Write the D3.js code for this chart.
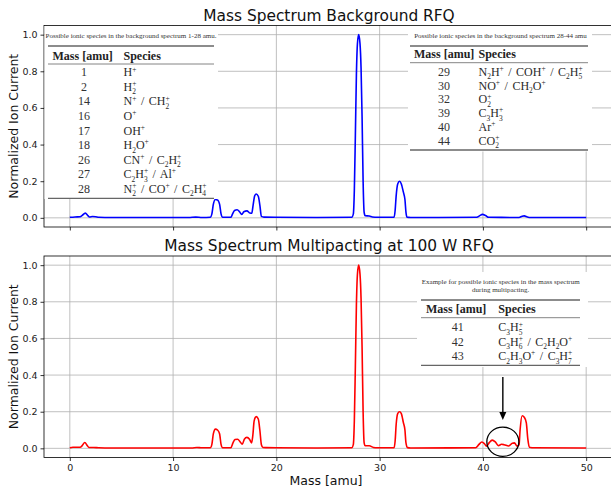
<!DOCTYPE html>
<html><head><meta charset="utf-8">
<script src="https://cdn.jsdelivr.net/npm/d3@7"></script>
<style>
html,body{margin:0;padding:0;background:#fff;}
svg{display:block;}
</style></head>
<body>
<svg id="chart" width="611" height="488"></svg>
<script>
// ---------------- DATA ----------------
const titles = ["Mass Spectrum Background RFQ", "Mass Spectrum Multipacting at 100 W RFQ"];
const xLabel = "Mass [amu]";
const yLabel = "Normalized Ion Current";
const xTicks = [0, 10, 20, 30, 40, 50];
const yTicks = [0.0, 0.2, 0.4, 0.6, 0.8, 1.0];

// Background spectrum (blue)
const bgMass = [0,0.5,1.0,1.2,1.5,1.75,1.9,2.2,2.5,2.8,4,8,11.5,12.2,12.8,13.6,13.75,13.9,14.1,14.3,14.5,14.65,14.8,15.6,15.75,15.95,16.2,16.45,16.65,16.85,17.15,17.45,17.62,17.75,17.9,18.05,18.25,18.4,18.55,18.8,20,24,27.3,27.45,27.55,27.65,27.75,27.85,27.97,28.1,28.2,28.3,28.4,28.5,28.6,29.0,29.3,29.8,31.4,31.5,31.6,31.75,31.93,32.1,32.3,32.45,32.55,32.65,33,39.4,39.7,39.95,40.25,40.55,43.5,43.8,44.0,44.3,44.6,50];
const bgIon  = [0.003,0.005,0.006,0.013,0.026,0.012,0.005,0.007,0.006,0.003,0.002,0.002,0.002,0.004,0.002,0.003,0.02,0.075,0.1,0.098,0.075,0.02,0.003,0.003,0.02,0.04,0.044,0.032,0.018,0.033,0.038,0.026,0.025,0.07,0.12,0.13,0.118,0.07,0.008,0.004,0.003,0.002,0.003,0.02,0.15,0.45,0.78,0.95,1.0,0.95,0.82,0.55,0.2,0.03,0.012,0.01,0.005,0.003,0.003,0.04,0.12,0.185,0.2,0.185,0.14,0.1,0.03,0.004,0.002,0.003,0.012,0.019,0.013,0.003,0.002,0.009,0.011,0.005,0.002,0.002];

// Multipacting spectrum (red)
const mpMass = [0,0.3,1.0,1.2,1.45,1.7,1.85,2.3,2.8,4,8,11.8,12.3,12.8,13.6,13.75,13.9,14.1,14.3,14.5,14.65,14.8,15.6,15.8,16.0,16.25,16.5,16.7,16.9,17.15,17.4,17.6,17.72,17.85,18.05,18.25,18.4,18.55,18.7,19,20,24,27.3,27.45,27.55,27.65,27.75,27.85,27.97,28.1,28.2,28.3,28.4,28.5,28.6,29.0,29.4,29.8,31.4,31.5,31.6,31.75,31.93,32.1,32.3,32.45,32.55,32.7,33,39.3,39.6,39.9,40.15,40.35,40.6,40.9,41.2,41.5,41.8,42.05,42.5,42.85,43.05,43.3,43.5,43.6,43.8,44.0,44.2,44.35,44.5,45,50];
const mpIon  = [0.003,0.006,0.006,0.015,0.032,0.014,0.005,0.005,0.003,0.002,0.002,0.002,0.005,0.003,0.003,0.02,0.08,0.105,0.1,0.08,0.02,0.003,0.004,0.03,0.048,0.05,0.035,0.022,0.05,0.06,0.05,0.03,0.07,0.15,0.173,0.16,0.1,0.02,0.005,0.004,0.003,0.002,0.003,0.02,0.15,0.45,0.78,0.95,1.0,0.95,0.82,0.55,0.2,0.03,0.014,0.014,0.005,0.003,0.003,0.04,0.13,0.19,0.2,0.19,0.14,0.1,0.03,0.004,0.002,0.003,0.02,0.035,0.025,0.012,0.03,0.045,0.035,0.015,0.022,0.02,0.013,0.028,0.03,0.012,0.02,0.1,0.178,0.17,0.14,0.05,0.006,0.003,0.002];

// Annotation on multipacting plot (ellipse centre/radii, arrow start/end in data units)
const ringCenter = [41.93, 0.036];
const ringRadius = [1.55, 0.08];
const arrowFrom = [41.93, 0.39];
const arrowTo = [41.93, 0.155];

// Tables
const table1Caption = ["Possible ionic species in the background spectrum 1-28 amu."];
const table1Mass = ["1","2","14","16","17","18","26","27","28"];
const table1Species = ["H^+","H_2^+","N^+ / CH_2^+","O^+","OH^+","H_2O^+","CN^+ / C_2H_2^+","C_2H_3^+ / Al^+","N_2^+ / CO^+ / C_2H_4^+"];
const table2Caption = ["Possible ionic species in the background spectrum 28-44 amu"];
const table2Mass = ["29","30","32","39","40","44"];
const table2Species = ["N_2H^+ / COH^+ / C_2H_5^+","NO^+ / CH_2O^+","O_2^+","C_3H_3^+","Ar^+","CO_2^+"];
const table3Caption = ["Example for possible ionic species in the mass spectrum","during multipacting."];
const table3Mass = ["41","42","43"];
const table3Species = ["C_3H_5^+","C_3H_6^+ / C_2H_2O^+","C_2H_3O^+ / C_3H_7^+"];
const tableHeader = ["Mass [amu]", "Species"];

// ---------------- LAYOUT ----------------
const svg = d3.select("#chart");
const left = 44, right = 612;
const panels = [
  {top: 25.5, bottom: 227, mass: bgMass, ion: bgIon, color: "#0000ff", title: titles[0], titleY: 20.5, showXLabels: false},
  {top: 256, bottom: 457.5, mass: mpMass, ion: mpIon, color: "#ff0000", title: titles[1], titleY: 250.7, showXLabels: true}
];
const x = d3.scaleLinear().domain([-2.5, 52.5]).range([left, right]);
const sans = "DejaVu Sans, sans-serif";
const serif = "Liberation Serif, Times New Roman, serif";

panels.forEach((p) => {
  const y = d3.scaleLinear().domain([-0.05, 1.05]).range([p.bottom, p.top]);
  p.y = y;
  const g = svg.append("g");
  g.selectAll(".gx").data(xTicks).enter().append("line")
    .attr("x1", d => x(d)).attr("x2", d => x(d)).attr("y1", p.top).attr("y2", p.bottom)
    .attr("stroke", "#b0b0b0").attr("stroke-width", 0.8);
  g.selectAll(".gy").data(yTicks).enter().append("line")
    .attr("x1", left).attr("x2", right).attr("y1", d => y(d)).attr("y2", d => y(d))
    .attr("stroke", "#b0b0b0").attr("stroke-width", 0.8);
  const pts = p.mass.map((m, i) => [m, p.ion[i]]);
  g.append("path").datum(pts)
    .attr("d", d3.line().x(d => x(d[0])).y(d => y(d[1])).curve(d3.curveMonotoneX))
    .attr("fill", "none").attr("stroke", p.color).attr("stroke-width", 1.6).attr("stroke-linejoin", "round");
  const xa = svg.append("g").attr("transform", `translate(0,${p.bottom})`)
    .call(d3.axisBottom(x).tickValues(xTicks).tickSize(3.5).tickPadding(3)
      .tickFormat(p.showXLabels ? d3.format("d") : () => ""));
  const ya = svg.append("g").attr("transform", `translate(${left},0)`)
    .call(d3.axisLeft(y).tickValues(yTicks).tickSize(3.5).tickPadding(3).tickFormat(d3.format(".1f")));
  [xa, ya].forEach(a => {
    a.select(".domain").remove();
    a.selectAll("line").attr("stroke", "#000").attr("stroke-width", 0.8);
    a.selectAll("text").attr("font-family", sans).attr("font-size", 9.5).attr("fill", "#222");
  });
  svg.append("rect").attr("x", left).attr("y", p.top).attr("width", right - left).attr("height", p.bottom - p.top)
    .attr("fill", "none").attr("stroke", "#000").attr("stroke-width", 0.8);
  svg.append("text").attr("x", 329).attr("y", p.titleY).attr("text-anchor", "middle")
    .attr("font-family", sans).attr("font-size", 15.4).attr("fill", "#111").text(p.title);
  svg.append("text").attr("transform", `translate(18,${(p.top + p.bottom) / 2}) rotate(-90)`)
    .attr("text-anchor", "middle").attr("font-family", sans).attr("font-size", 12.5).attr("fill", "#111").text(yLabel);
});
svg.append("text").attr("x", (left + right) / 2 - 2).attr("y", 485).attr("text-anchor", "middle")
  .attr("font-family", sans).attr("font-size", 12.5).attr("fill", "#111").text(xLabel);

// ---------------- FORMULA RENDERING ----------------
function parseFormula(s) {
  const toks = []; let buf = "";
  const flush = () => { if (buf) { toks.push({t: buf, type: "n"}); buf = ""; } };
  let i = 0;
  while (i < s.length) {
    const c = s[i];
    if (c === "_") {
      flush(); toks.push({t: s[i + 1], type: "sub"}); i += 2;
      if (s[i] === "^") { toks.push({t: s[i + 1], type: "sup", stack: true}); i += 2; }
    } else if (c === "^") {
      flush(); toks.push({t: s[i + 1], type: "sup"}); i += 2;
    } else { buf += c; i++; }
  }
  flush();
  return toks;
}
function drawFormula(g, s, x0, y0, fs) {
  const text = g.append("text").attr("x", x0).attr("y", y0)
    .attr("font-family", serif).attr("font-size", fs).attr("fill", "#2a2a2a")
    .attr("word-spacing", 1.5)
    .attr("xml:space", "preserve").style("white-space", "pre");
  const off = {n: 0, sub: fs * 0.3, sup: -fs * 0.39};
  let level = 0, lastSubW = 0, pendingDx = 0;
  parseFormula(s).forEach(tok => {
    const target = off[tok.type];
    const ts = text.append("tspan").attr("dy", target - level)
      .attr("font-size", tok.type === "n" ? fs : fs * 0.62).text(tok.t);
    level = target;
    if (tok.stack) ts.attr("dx", -lastSubW);
    else if (pendingDx) ts.attr("dx", pendingDx);
    pendingDx = 0;
    const w = ts.node().getComputedTextLength();
    if (tok.type === "sub") lastSubW = w;
    if (tok.stack && lastSubW > w) pendingDx = lastSubW - w;
  });
}
function drawTable(cfg) {
  const g = svg.append("g");
  g.append("rect").attr("x", cfg.box[0]).attr("y", cfg.box[1]).attr("width", cfg.box[2] - cfg.box[0])
    .attr("height", cfg.box[3] - cfg.box[1]).attr("fill", "#fff");
  cfg.caption.forEach((c, i) => {
    g.append("text").attr("x", cfg.capX).attr("y", cfg.capY + i * 8.3).attr("text-anchor", "middle")
      .attr("font-family", serif).attr("font-size", 7).attr("fill", "#333").text(c);
  });
  const rule = (yy, w) => g.append("line").attr("x1", cfg.rule[0]).attr("x2", cfg.rule[1])
    .attr("y1", yy).attr("y2", yy).attr("stroke", "#666").attr("stroke-width", w);
  rule(cfg.topRule, 1.3); rule(cfg.midRule, 0.8); rule(cfg.botRule, 1.3);
  tableHeader.forEach((h, k) => {
    g.append("text").attr("x", cfg.headX[k]).attr("y", cfg.headY).attr("font-family", serif)
      .attr("font-weight", "bold").attr("font-size", 12).attr("fill", "#222").text(h);
  });
  cfg.mass.forEach((m, i) => {
    const yy = cfg.row0 + i * cfg.rowH;
    g.append("text").attr("x", cfg.massX).attr("y", yy).attr("text-anchor", "middle")
      .attr("font-family", serif).attr("font-size", 12).attr("fill", "#333").text(m);
    drawFormula(g, cfg.species[i], cfg.headX[1], yy, 12);
  });
}
drawTable({box: [44.5, 26, 218, 199], caption: table1Caption, capX: 131, capY: 37.5,
  rule: [48, 214], topRule: 46, midRule: 64, botRule: 198.3, headX: [52.5, 123.5], headY: 59.5,
  mass: table1Mass, species: table1Species, massX: 84, row0: 76.3, rowH: 14.55});
drawTable({box: [408, 26, 592, 151.5], caption: table2Caption, capX: 500.5, capY: 37.5,
  rule: [410, 588], topRule: 46, midRule: 62.7, botRule: 150, headX: [414, 478.5], headY: 58.3,
  mass: table2Mass, species: table2Species, massX: 444, row0: 75.7, rowH: 13.8});
drawTable({box: [417, 272, 588, 367], caption: table3Caption, capX: 500.7, capY: 283.5,
  rule: [421, 580], topRule: 300, midRule: 317.7, botRule: 365.3, headX: [426, 498.3], headY: 313,
  mass: table3Mass, species: table3Species, massX: 457.7, row0: 331.3, rowH: 14.4});

// ---------------- ANNOTATION ----------------
const yb = panels[1].y;
svg.append("ellipse").attr("cx", x(ringCenter[0])).attr("cy", yb(ringCenter[1]))
  .attr("rx", x(ringCenter[0] + ringRadius[0]) - x(ringCenter[0]))
  .attr("ry", yb(0) - yb(ringRadius[1]))
  .attr("fill", "none").attr("stroke", "#000").attr("stroke-width", 1.3);
const ax0 = x(arrowFrom[0]), ay0 = yb(arrowFrom[1]), ax1 = x(arrowTo[0]), ay1 = yb(arrowTo[1]);
svg.append("line").attr("x1", ax0).attr("y1", ay0).attr("x2", ax1).attr("y2", ay1 - 6)
  .attr("stroke", "#000").attr("stroke-width", 1.4);
svg.append("path").attr("d", `M${ax1},${ay1} L${ax1 - 3.5},${ay1 - 8} L${ax1 + 3.5},${ay1 - 8} Z`).attr("fill", "#000");
</script>
</body></html>
